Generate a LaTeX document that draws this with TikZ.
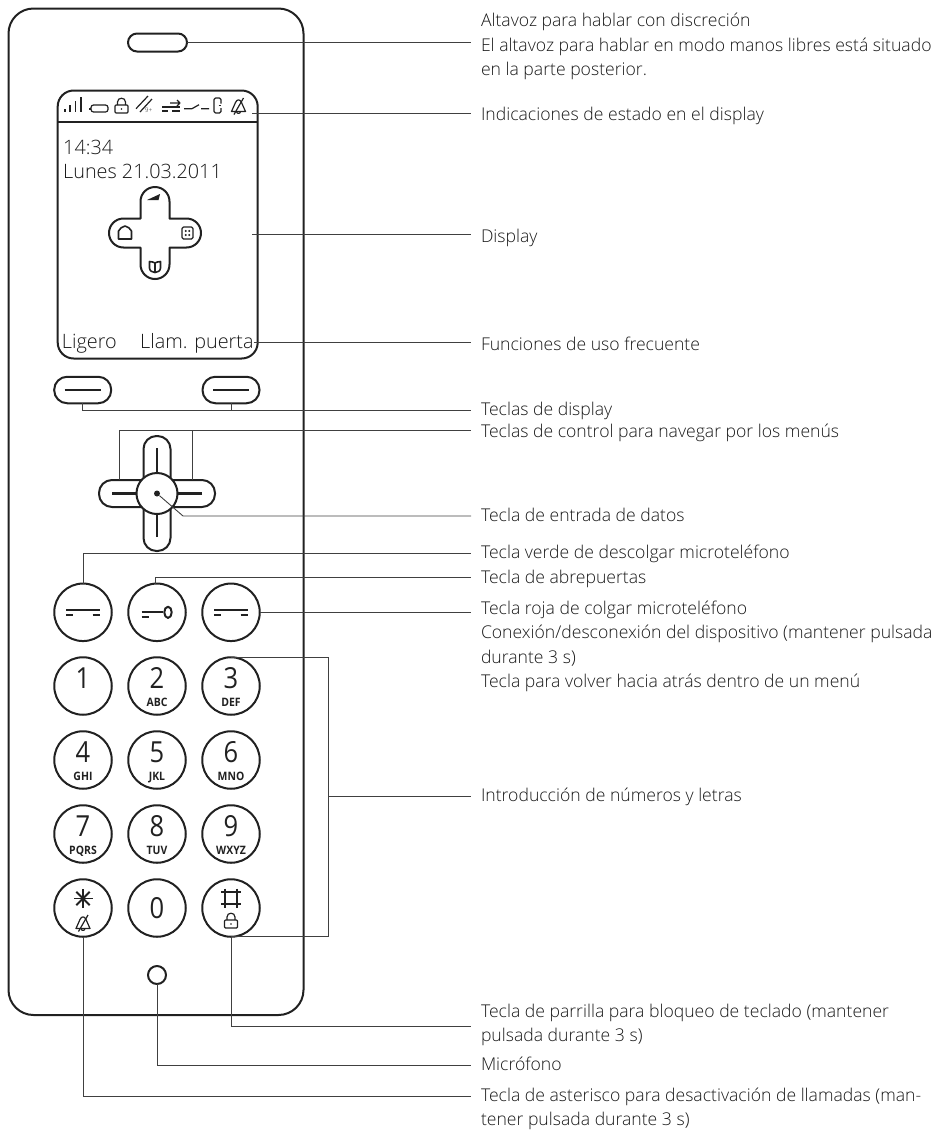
\documentclass[tikz,border=0pt]{standalone}
\usepackage{fontspec}
\setmainfont{Open Sans}[UprightFont=* Light]
\newfontfamily\keyfont{Open Sans}[FakeStretch=0.88]
\newfontfamily\letterfont{Open Sans}[FakeStretch=0.9]
\usetikzlibrary{shapes,arrows,positioning}
\definecolor{inkdark}{gray}{0.13}
\tikzset{
  outline/.style={draw=inkdark, line width=2pt, line join=round},
  thinicon/.style={draw=inkdark, line width=1.2pt, line join=round},
  symbol/.style={draw=inkdark, line width=2.2pt},
  lead/.style={draw=black!75, line width=0.9pt},
  housing/.style={outline, rectangle, rounded corners=25pt, outer sep=0pt},
  pill/.style={outline, rectangle, rounded corners=#1, outer sep=0pt, fill=white},
  roundkey/.style={outline, circle, minimum size=57.5pt, inner sep=0pt, outer sep=0pt},
  lbl/.style={
    anchor=base west,
    inner sep=0pt,
    outer xsep=10pt,
    outer ysep=0pt,
    align=left,
    text=black!90,
    font=\fontsize{17.6}{24.3}\selectfont
  },
  screentext/.style={anchor=base west, inner sep=0pt, text=black!90, font=\fontsize{19.8}{24}\selectfont},
  digit/.style={anchor=base, inner sep=0pt, text=inkdark, font=\fontsize{29}{29}\keyfont},
  letters/.style={anchor=base, inner sep=0pt, text=inkdark, font=\fontsize{11.6}{12}\letterfont\bfseries},
  handset/.pic={
    \draw[symbol] (-17,-2.3) -- (17,-2.3);
    \draw[symbol] (-17,3) -- (-9.7,3);
    \draw[symbol] (9.7,3) -- (17,3);
  },
  lockicon/.pic={
    \draw[thinicon, rounded corners=1pt] (-6.5,0) rectangle (6.5,8);
    \draw[thinicon] (-4,0) -- (-4,-3) .. controls (-4,-8) and (4,-8) .. (4,-3) -- (4,0);
    \fill[inkdark] (0,4) circle (0.9);
  },
  bellicon/.pic={
    \draw[thinicon] (-7,5.5) -- (-3,-3.5) .. controls (-1.5,-7) and (1.5,-7) .. (3,-3.5) -- (7,5.5) -- cycle;
    \draw[thinicon] (-2,5.5) .. controls (-2,8) and (2,8) .. (2,5.5);
    \draw[thinicon] (-4.5,8.5) -- (5,-8);
  }
}

\begin{document}
\begin{tikzpicture}[x=1pt,y=-1pt]
\useasboundingbox (0,0) rectangle (937,1130);

% housing and display
\node[housing, minimum width=295pt, minimum height=1006.5pt] (phone) at (156,511.75) {};
\node[pill=9pt, minimum width=59pt, minimum height=18pt] (speaker) at (157.5,42.5) {};
\node[pill=16pt, minimum width=200pt, minimum height=268pt] (display) at (157.7,224.5) {};
\draw[outline] (display.west |- 0,122) -- (display.east |- 0,122);

% status line
\foreach \bx/\by in {65/109,70/105,75.5/101,81/97}
  \draw[thinicon] (\bx,\by) -- (\bx,112);
\draw[thinicon, rounded corners=2.5pt] (91,105) rectangle (108,112);
\draw[thinicon] (90,107.5) -- (90,109.5);
\pic at (121.5,105) {lockicon};
\draw[thinicon] (136,108.7) -- (148,96);
\draw[thinicon] (140,112) -- (152,99);
\node[inner sep=0pt, text=inkdark, font=\fontsize{6.5}{7}\selectfont] (nineplus) at (148.5,110) {9+};
\draw[thinicon] (162,107) -- (180,107);
\draw[thinicon] (170,103) -- (180,103) (177,100) -- (180,103) -- (177,106);
\draw[thinicon] (162,111) -- (168,111) (172,111) -- (180,111);
\draw[thinicon] (184,108.7) -- (192,108.7) -- (199,104.7) (201,108.7) -- (209,108.7);
\draw[thinicon, rounded corners=1.5pt] (221,103.5) -- (221,98) -- (214,98) -- (214,113) -- (221,113) -- (221,108);
\draw[thinicon] (218.5,105.7) -- (221,105.7);
\pic at (238.5,106) {bellicon};

% display content
\node[screentext] (clock) at (63,154) {14:34};
\node[screentext] (date) at (63,178) {Lunes 21.03.2011};
\node[screentext] (softa) at (61.7,348) {Ligero};
\node[screentext] (softb) at (140,348) {Llam. puerta};
\draw[outline] (140.5,201.5) arc[start angle=180,end angle=360,radius=14.5] -- (169.5,218.5) -- (186.5,218.5)
  arc[start angle=270,end angle=450,radius=14.5] -- (169.5,247.5) -- (169.5,264.5)
  arc[start angle=0,end angle=180,radius=14.5] -- (140.5,247.5) -- (123.5,247.5)
  arc[start angle=90,end angle=270,radius=14.5] -- (140.5,218.5) -- cycle;
\fill[inkdark] (147,200) -- (160,194) -- (158.5,200) -- cycle;
\draw[outline, line width=1.6pt] (118.5,239) -- (118.5,231) .. controls (120,228) and (122,227) .. (125,226) .. controls (128,227) and (130,228) .. (131.5,231) -- (131.5,239) -- cycle;
\draw[thinicon, rounded corners=1.5pt] (182,227) rectangle (193,239);
\foreach \gx in {185.7,189.3}
  \foreach \gy in {231,235}
    \fill[inkdark] (\gx,\gy) circle (1.1);
\draw[outline, line width=1.6pt] (149.5,261.5) .. controls (152,262) and (154,262) .. (155,263) .. controls (156,262) and (158,262) .. (160.5,261.5) -- (160.5,268) .. controls (160.5,271) and (157,272.5) .. (155,272.5) .. controls (153,272.5) and (149.5,271) .. (149.5,268) -- cycle;
\draw[thinicon] (155,263) -- (155,272.5);

% soft keys
\node[pill=13pt, minimum width=57pt, minimum height=26.5pt] (softl) at (82.7,390) {};
\node[pill=13pt, minimum width=57pt, minimum height=26.5pt] (softr) at (231,390) {};
\draw[symbol] ([xshift=-18pt]softl.center) -- ([xshift=18pt]softl.center);
\draw[symbol] ([xshift=-18pt]softr.center) -- ([xshift=18pt]softr.center);

% control cross
\node[pill=13pt, minimum width=116pt, minimum height=27pt] (navh) at (157,493.5) {};
\node[pill=13pt, minimum width=27pt, minimum height=115pt] (navv) at (157,493.5) {};
\node[outline, circle, fill=white, minimum size=41pt, inner sep=0pt, outer sep=0pt] (navc) at (157,493.5) {};
\node[circle, fill=inkdark, minimum size=6pt, inner sep=0pt] (okdot) at (157,493.5) {};
\draw[symbol] ([yshift=-12pt]navv.north) -- (navc.north);
\draw[symbol] ([yshift=14pt]navv.south) -- (navc.south);
\draw[symbol] ([xshift=13pt]navh.west) -- (navc.west);
\draw[symbol] ([xshift=-13pt]navh.east) -- (navc.east);

% keypad
\node[roundkey] (keygreen) at (83,612.3) {};
\node[roundkey] (keydoor) at (157,612.3) {};
\node[roundkey] (keyred) at (231,612.3) {};
\pic at (keygreen) {handset};
\pic at (keyred) {handset};
\draw[symbol] (141.7,611.6) -- (163.3,611.6);
\draw[symbol] (141.7,617.3) -- (149.4,617.3);
\draw[outline] (168,612.3) ellipse (3.7 and 5.6);
\foreach \digitno/\lettertext/\kx/\ky in {1//83/686,2/ABC/157/686,3/DEF/231/686,4/GHI/83/760,5/JKL/157/760,6/MNO/231/760,7/PQRS/83/834,8/TUV/157/834,9/WXYZ/231/834}{
  \node[roundkey] (key\digitno) at (\kx,\ky) {};
  \node[digit] (num\digitno) at ([yshift=-2pt]key\digitno.center) {\digitno};
  \node[letters] (txt\digitno) at ([yshift=-20pt]key\digitno.center) {\lettertext};
}
\node[roundkey] (keystar) at (83,908) {};
\node[roundkey] (key0) at (157,908) {};
\node[roundkey] (keyhash) at (231,908) {};
\node[digit] (num0) at ([yshift=-10pt]key0.center) {0};
\foreach \ang in {0,45,90,135}
  \draw[outline, line width=1.8pt] (83,898.5)+(\ang:9.5) -- +(\ang+180:9.5);
\pic at (83,923) {bellicon};
\draw[outline, line width=1.8pt] (225,888.7) -- (225,908) (237,888.7) -- (237,908) (221,892) -- (241,892) (221,903.7) -- (241,903.7);
\pic at (231,920) {lockicon};
\node[outline, circle, minimum size=18pt, inner sep=0pt, outer sep=0pt] (mic) at (157,975) {};

% right hand texts
\node[lbl] (lspk) at (471,75.3) {Altavoz para hablar con discreción\\El altavoz para hablar en modo manos libres está situado\\en la parte posterior.};
\node[lbl] (lstatus) at (471,120) {Indicaciones de estado en el display};
\node[lbl] (ldisp) at (471,242) {Display};
\node[lbl] (lfreq) at (471,350) {Funciones de uso frecuente};
\node[lbl] (lsoft) at (471,415.7) {Teclas de display};
\node[lbl] (lnav) at (471,437.7) {Teclas de control para navegar por los menús};
\node[lbl] (lok) at (471,521) {Tecla de entrada de datos};
\node[lbl] (lgreen) at (471,558) {Tecla verde de descolgar microteléfono};
\node[lbl] (ldoor) at (471,583.3) {Tecla de abrepuertas};
\node[lbl] (lred) at (471,687.4) {Tecla roja de colgar microteléfono\\Conexión/desconexión del dispositivo (mantener pulsada\\durante 3 s)\\Tecla para volver hacia atrás dentro de un menú};
\node[lbl] (lpad) at (471,801) {Introducción de números y letras};
\node[lbl] (lhash) at (471,1041.3) {Tecla de parrilla para bloqueo de teclado (mantener\\pulsada durante 3 s)};
\node[lbl] (lmic) at (471,1070) {Micrófono};
\node[lbl] (lstar) at (471,1125.6) {Tecla de asterisco para desactivación de llamadas (man-\\tener pulsada durante 3 s)};

% leads
\coordinate (statuspt) at (252,113);
\coordinate (disppt) at (252,234.5);
\coordinate (okbend) at (183,516);
\coordinate (padjoin) at (328,796);
\draw[lead] (speaker.east) -- (speaker.east -| lspk.base west);
\draw[lead] (statuspt) -- (statuspt -| lstatus.base west);
\draw[lead] (disppt) -- (disppt -| ldisp.base west);
\draw[lead] (softb.east) -- (softb.east -| lfreq.base west);
\draw[lead] (softl.south) |- ([yshift=5.7pt]lsoft.base west);
\draw[lead] (softr.south) |- ([yshift=5.7pt]lsoft.base west);
\draw[lead] ([xshift=-38pt]navh.north) |- ([yshift=7.7pt]lnav.base west);
\draw[lead] ([xshift=35pt]navh.north) |- ([yshift=7.7pt]lnav.base west);
\draw[lead] (okdot) -- (okbend) -- (okbend -| lok.base west);
\draw[lead] (keygreen.north) |- ([yshift=4.3pt]lgreen.base west);
\draw[lead] ([xshift=-2pt]keydoor.north) |- ([yshift=6pt]ldoor.base west);
\draw[lead] (keyred.east) -- (keyred.east -| lred.base west);
\draw[lead] (key3.north) -| (padjoin);
\draw[lead] (keyhash.south) -| (padjoin);
\draw[lead] (padjoin) -- (padjoin -| lpad.base west);
\draw[lead] (keyhash.south) |- ([yshift=15.3pt]lhash.base west);
\draw[lead] (mic.south) |- ([yshift=5pt]lmic.base west);
\draw[lead] (keystar.south) |- ([yshift=29.6pt]lstar.base west);

\end{tikzpicture}
\end{document}
